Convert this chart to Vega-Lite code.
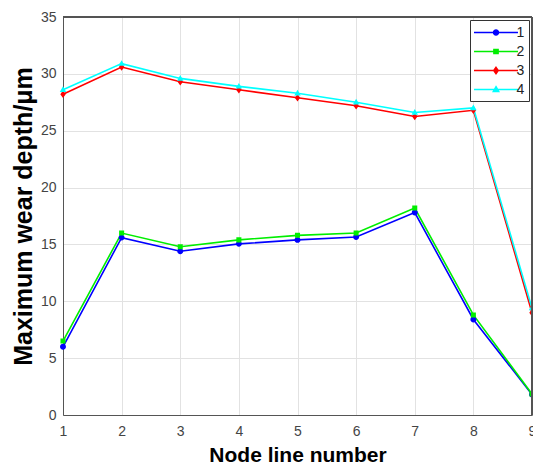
{
 "$schema": "https://vega.github.io/schema/vega-lite/v6.json",
 "width": 469, "height": 398,
 "autosize": {"type": "none"},
 "padding": {"left": 63, "top": 17, "right": 1, "bottom": 50},
 "background": "white",
 "config": {
   "view": {"stroke": "#555555", "strokeWidth": 1},
   "font": "Liberation Sans",
   "axis": {"gridColor": "#e2e2e2", "gridWidth": 1, "domainColor": "#555555", "labelColor": "#444444", "labelFontSize": 14, "titleColor": "#000000", "titleFontWeight": "bold", "ticks": false}
 },
 "data": {"values": [
   {"node": 1, "depth": 6.0, "series": "1"},
   {"node": 2, "depth": 15.6, "series": "1"},
   {"node": 3, "depth": 14.4, "series": "1"},
   {"node": 4, "depth": 15.05, "series": "1"},
   {"node": 5, "depth": 15.4, "series": "1"},
   {"node": 6, "depth": 15.65, "series": "1"},
   {"node": 7, "depth": 17.8, "series": "1"},
   {"node": 8, "depth": 8.4, "series": "1"},
   {"node": 9, "depth": 1.8, "series": "1"},
   {"node": 1, "depth": 6.5, "series": "2"},
   {"node": 2, "depth": 16.0, "series": "2"},
   {"node": 3, "depth": 14.8, "series": "2"},
   {"node": 4, "depth": 15.4, "series": "2"},
   {"node": 5, "depth": 15.8, "series": "2"},
   {"node": 6, "depth": 16.0, "series": "2"},
   {"node": 7, "depth": 18.2, "series": "2"},
   {"node": 8, "depth": 8.8, "series": "2"},
   {"node": 9, "depth": 1.85, "series": "2"},
   {"node": 1, "depth": 28.2, "series": "3"},
   {"node": 2, "depth": 30.6, "series": "3"},
   {"node": 3, "depth": 29.3, "series": "3"},
   {"node": 4, "depth": 28.6, "series": "3"},
   {"node": 5, "depth": 27.9, "series": "3"},
   {"node": 6, "depth": 27.2, "series": "3"},
   {"node": 7, "depth": 26.25, "series": "3"},
   {"node": 8, "depth": 26.8, "series": "3"},
   {"node": 9, "depth": 9.0, "series": "3"},
   {"node": 1, "depth": 28.6, "series": "4"},
   {"node": 2, "depth": 30.9, "series": "4"},
   {"node": 3, "depth": 29.6, "series": "4"},
   {"node": 4, "depth": 28.9, "series": "4"},
   {"node": 5, "depth": 28.3, "series": "4"},
   {"node": 6, "depth": 27.5, "series": "4"},
   {"node": 7, "depth": 26.6, "series": "4"},
   {"node": 8, "depth": 27.0, "series": "4"},
   {"node": 9, "depth": 9.4, "series": "4"}
 ]},
 "layer": [
   {"mark": {"type": "line", "strokeWidth": 1.6},
    "encoding": {
      "x": {"field": "node", "type": "quantitative",
            "scale": {"domain": [1, 9], "nice": false, "zero": false},
            "axis": {"values": [1,2,3,4,5,6,7,8,9], "format": "d", "title": "Node line number", "titleFontSize": 21, "labelPadding": 9, "titlePadding": 6, "labelFlush": false}},
      "y": {"field": "depth", "type": "quantitative",
            "scale": {"domain": [0, 35], "nice": false},
            "axis": {"values": [0,5,10,15,20,25,30,35], "format": "d", "title": "Maximum wear depth/μm", "titleFontSize": 25, "labelPadding": 7, "titlePadding": 4}},
      "color": {"field": "series", "type": "nominal",
                "scale": {"domain": ["1","2","3","4"], "range": ["#0000ff", "#00ee00", "#ff0000", "#00ffff"]},
                "legend": {"title": null, "orient": "top-right", "offset": 3,
                  "strokeColor": "#333333", "fillColor": "white", "padding": 4,
                  "labelFontSize": 14, "labelColor": "#222222", "labelOffset": 12, "rowPadding": 3,
                  "symbolSize": 225, "symbolOffset": 13.5, "symbolStrokeWidth": 1.5}}
    }},
   {"mark": {"type": "point", "filled": true, "opacity": 1, "size": 324, "strokeWidth": 0},
    "encoding": {
      "x": {"field": "node", "type": "quantitative"},
      "y": {"field": "depth", "type": "quantitative"},
      "color": {"field": "series", "type": "nominal"},
      "shape": {"field": "series", "type": "nominal",
        "scale": {"domain": ["1","2","3","4"], "range": [
          "M-2.93,0H2.93M0.33,0A0.33,0.33 0 1,1 -0.33,0A0.33,0.33 0 1,1 0.33,0Z",
          "M-2.93,0H2.93M-0.28,-0.28H0.28V0.28H-0.28Z",
          "M-2.93,0H2.93M0,-0.42L0.3,0L0,0.42L-0.3,0Z",
          "M-2.93,0H2.93M0,-0.38L0.36,0.25H-0.36Z"
        ]},
        "legend": {"title": null, "orient": "top-right", "offset": 3,
          "strokeColor": "#333333", "fillColor": "white", "padding": 4,
          "labelFontSize": 14, "labelColor": "#222222", "labelOffset": 12, "rowPadding": 3,
          "symbolSize": 225, "symbolOffset": 13.5, "symbolStrokeWidth": 1.5}
      }
    }},
   {"mark": {"type": "rule", "color": "#555555", "strokeWidth": 1},
    "encoding": {"y": {"datum": 35}}},
   {"mark": {"type": "rule", "color": "#555555", "strokeWidth": 1},
    "encoding": {"x": {"datum": 9}}}
 ]
}
